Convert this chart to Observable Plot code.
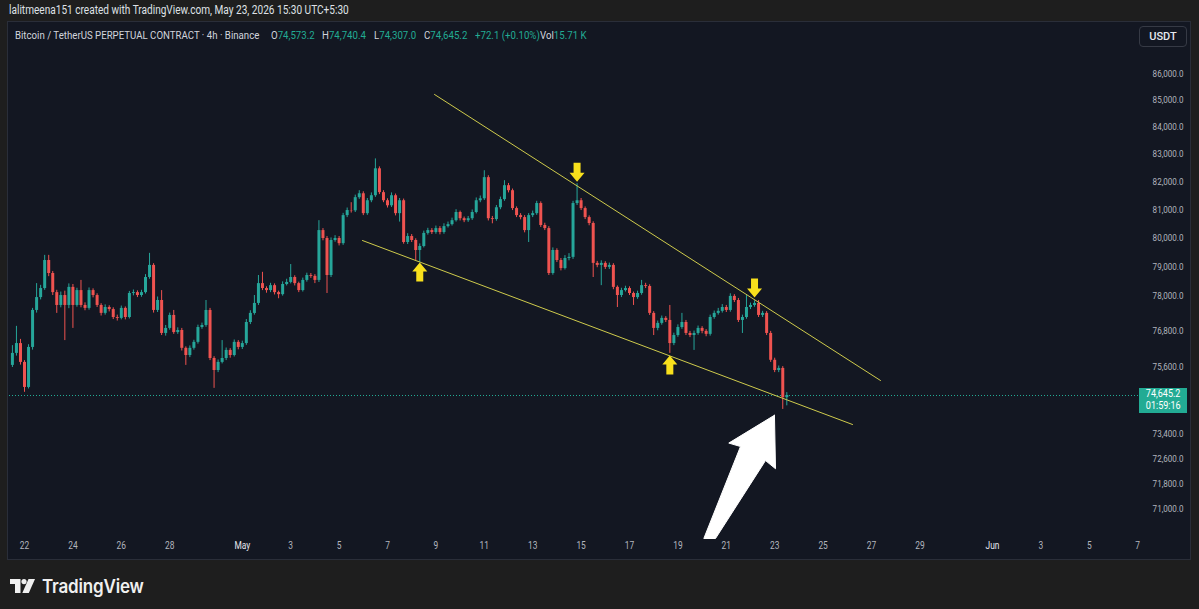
<!DOCTYPE html>
<html>
<head>
<meta charset="utf-8">
<script src="https://cdn.jsdelivr.net/npm/d3@7"></script>
<script src="https://cdn.jsdelivr.net/npm/@observablehq/plot@0.6"></script>
<style>
html,body{margin:0;padding:0;background:#1e1e1e;}
body{width:1199px;height:609px;position:relative;overflow:hidden;font-family:Roboto,"Noto Sans",sans-serif;}
#header{position:absolute;left:9px;top:3px;font-size:12px;color:#dfe1e6;white-space:nowrap;transform:scaleX(.84);transform-origin:0 0;}
#panel{position:absolute;left:7px;top:21px;width:1184px;height:539px;background:#131722;border:1px solid #2a2e39;box-sizing:border-box;}
#chart{position:absolute;left:8px;top:22px;}
.lg{position:absolute;top:28px;font-size:11.5px;white-space:nowrap;color:#d1d4dc;transform:scaleX(.84);transform-origin:0 0;}
.v{color:#22ab94;}
#usdt{position:absolute;left:1139px;top:26px;width:48px;height:21px;box-sizing:border-box;border:1px solid #363a45;border-radius:4px;background:#131722;color:#e6e8ee;font-size:11px;font-weight:500;display:flex;align-items:center;justify-content:center;}
#plabel{position:absolute;left:1139px;width:48px;height:25px;background:#22ab94;color:#fff;font-size:10.5px;line-height:12px;text-align:center;}
#plabel span{display:inline-block;transform:scaleX(.86);}
#logo{position:absolute;left:10px;top:575px;display:flex;align-items:center;}
#logo .t{font-family:Inter,Roboto,sans-serif;font-size:18.5px;font-weight:600;color:#f0f0f0;margin-left:7px;display:inline-block;transform:scaleX(.92);transform-origin:0 50%;letter-spacing:-0.2px;}
</style>
</head>
<body>
<div id="header">lalitmeena151 created with TradingView.com, May 23, 2026 15:30 UTC+5:30</div>
<div id="panel"></div>
<div id="chart"></div>
<div class="lg" style="left:15px">Bitcoin / TetherUS PERPETUAL CONTRACT · 4h · Binance</div>
<div class="lg" style="left:271px">O<span class="v">74,573.2</span></div>
<div class="lg" style="left:322px">H<span class="v">74,740.4</span></div>
<div class="lg" style="left:374px">L<span class="v">74,307.0</span></div>
<div class="lg" style="left:424px">C<span class="v">74,645.2</span></div>
<div class="lg" style="left:475px"><span class="v">+72.1 (+0.10%)</span></div>
<div class="lg" style="left:540px">Vol<span class="v">15.71 K</span></div>
<div id="usdt">USDT</div>
<div id="plabel"><span>74,645.2</span><br><span>01:59:16</span></div>
<div id="logo">
<svg width="25" height="14" viewBox="0 0 25 14"><path d="M0 0H10.5V14H5V5H0Z" fill="#f0f0f0"/><circle cx="14" cy="2.6" r="2.6" fill="#f0f0f0"/><path d="M18.5 0H25L18.8 14H12.3Z" fill="#f0f0f0"/></svg>
<span class="t">TradingView</span>
</div>
<script>
// ---- data ----
const barStart = Date.UTC(2026, 3, 21, 13, 30); // first 4h bar, UTC+5:30 wall time
const barHours = 4;

const closes = [
76040,76370,75740,74910,76240,77490,77930,78240,79210,78760,
78100,77660,78000,77660,78280,77660,78170,77660,77560,78170,
78000,77660,77390,77590,77520,77250,77220,77560,77250,78070,
78100,78000,78100,78620,79040,77490,77830,76710,76880,77320,
76740,76810,76210,75970,76210,76410,76910,76980,77490,75870,
75470,75740,75870,76140,75970,76410,76240,76370,77080,77390,
77730,78410,78240,78170,78340,78100,78030,78380,78450,78620,
78410,78170,78520,78690,78660,78520,80260,79980,78690,79910,
79980,79800,80790,80970,80960,81430,81570,80860,81320,81500,
82470,81610,81320,81140,81500,80860,81320,79840,80050,79910,
79560,79700,80160,80260,80190,80330,80190,80400,80470,80610,
80900,80680,80610,80680,80900,81320,81390,82150,80680,80650,
81070,81360,81860,81680,81040,80790,80720,80260,80790,80860,
81220,80440,80330,78760,79560,79210,78930,79280,79320,81220,
81320,81040,80720,80510,79110,79040,79110,78970,79040,78280,
78000,78170,78240,78070,77930,78070,78340,78310,77390,76880,
77050,77220,77150,76370,76640,76910,77080,76710,76640,76710,
76880,76780,76680,77250,77390,77460,77590,77490,77970,77830,
77150,77250,77590,77660,77730,77320,77390,76710,75810,75470,
75540,74573.2,74645.2];

const opens = [
75640,76040,76370,75740,74910,76240,77490,77930,78240,79210,
78760,78100,77660,78000,77660,78280,77660,78170,77660,77560,
78170,78000,77660,77390,77590,77520,77250,77220,77560,77250,
78070,78100,78000,78100,78620,79040,77490,77830,76710,76880,
77320,76740,76810,76210,75970,76210,76410,76910,76980,77490,
75870,75470,75740,75870,76140,75970,76410,76240,76370,77080,
77390,77730,78410,78240,78170,78340,78100,78030,78380,78450,
78620,78410,78170,78520,78690,78660,78520,80260,79980,78690,
79910,79980,79800,80790,80970,80960,81430,81570,80860,81320,
81500,82470,81610,81320,81140,81500,80860,81320,79840,80050,
79910,79560,79700,80160,80260,80190,80330,80190,80400,80470,
80610,80900,80680,80610,80680,80900,81320,81390,82150,80680,
80650,81070,81360,81860,81680,81040,80790,80720,80260,80790,
80860,81220,80440,80330,78760,79560,79210,78930,79280,79320,
81220,81320,81040,80720,80510,79110,79040,79110,78970,79040,
78280,78000,78170,78240,78070,77930,78070,78340,78310,77390,
76880,77050,77220,77150,76370,76640,76910,77080,76710,76640,
76710,76880,76780,76680,77250,77390,77460,77590,77490,77970,
77830,77150,77250,77590,77660,77730,77320,77390,76710,75810,
75470,75540,74573.2];

const highs = [
76300,76950,76510,75800,76330,77560,78410,78350,79390,79390,
78830,78180,78120,78150,78400,78380,78250,78520,77750,78260,
78230,78060,77720,77680,77650,77580,77330,77640,77610,78140,
78190,78160,78180,78720,79460,79100,77950,78170,76980,77400,
77490,76900,76880,76260,76290,76480,76990,77060,77830,77560,
75930,75820,76470,76220,76200,76490,76470,76450,77180,77480,
78000,78690,78800,78300,78420,78400,78150,78470,78560,79070,
78680,78460,78600,78770,78760,78720,80610,80330,80050,80000,
80080,80050,80870,81060,81250,81520,81680,81640,81400,81600,
82830,82540,81680,81390,81600,81560,81400,81380,80150,80120,
79970,79790,80240,80340,80330,80420,80400,80500,80560,80700,
81000,80950,80740,80760,80990,81420,81490,82400,82220,80760,
81150,81450,82040,81940,81740,81100,80860,80790,80860,80950,
81300,81280,80520,80400,79650,79620,79280,79380,79450,81300,
81930,81400,81100,80780,80570,79180,79200,79170,79120,79100,
78330,78250,78320,78300,78120,78150,78520,78420,78370,77450,
77130,77300,77280,77660,76720,77000,77390,77150,76780,76790,
76960,76940,76840,77330,77470,77560,77690,77660,78060,78030,
77900,77330,78000,77740,77820,77830,77460,77450,76780,75880,
75620,75600,74740.4];

const lows = [
75570,75950,75650,74750,74860,76150,77400,77850,78180,78650,
78000,77390,77580,76470,77550,76880,77600,77580,77480,77500,
77920,77590,77300,77330,77440,77180,77130,77170,77170,77200,
77990,77930,77940,78050,78560,77400,77420,76640,76620,76820,
76680,76680,76120,75640,75900,76150,76350,76850,76920,75800,
74880,75400,75690,75800,75880,75920,76160,76170,76310,77010,
77330,77660,78170,78080,78100,78020,77890,77980,78330,78400,
78330,78100,78120,78460,78590,78410,78450,79900,78070,78620,
79850,79720,79740,80720,80880,80900,81370,80790,80800,81250,
81440,81540,81250,81060,81080,80780,80560,79780,79770,79840,
79210,79140,79650,80100,80120,80130,80110,80130,80350,80420,
80560,80600,80540,80550,80620,80850,81250,81330,80600,80500,
80590,81000,81300,81600,80970,80720,80640,80180,79840,80720,
80800,80370,80260,78690,78700,79140,78850,78880,79200,79250,
81150,80970,80650,80430,78620,78960,78340,78900,78900,78200,
77590,77930,78120,78000,77660,77870,78010,78240,77320,76640,
76800,76990,77080,76040,76300,76580,76850,76640,76570,76140,
76650,76700,76600,76620,77190,77330,77400,77420,77430,77760,
77080,76710,77190,77520,77600,77250,77250,76640,75740,75400,
75400,74190,74307.0];

const lastPrice = 74645.2;
const priceTicks = [86000,85000,84000,83000,82000,81000,80000,79000,78000,76800,75600,73400,72600,71800,71000];
const dayTickDates = ["2026-04-22","2026-04-24","2026-04-26","2026-04-28","2026-05-01","2026-05-03","2026-05-05","2026-05-07","2026-05-09","2026-05-11","2026-05-13","2026-05-15","2026-05-17","2026-05-19","2026-05-21","2026-05-23","2026-05-25","2026-05-27","2026-05-29","2026-06-01","2026-06-03","2026-06-05","2026-06-07"];
const dayTickLabels = ["22","24","26","28","May","3","5","7","9","11","13","15","17","19","21","23","25","27","29","Jun","3","5","7"];

// drawings
const upperTrendTimes = ["2026-05-09T00:07Z","2026-05-27T10:24Z"];
const upperTrendPrices = [85210, 75140];
const lowerTrendTimes = ["2026-05-06T00:42Z","2026-05-26T06:40Z"];
const lowerTrendPrices = [79910, 73700];
const upArrowBars = [101, 163];
const upArrowPrices = [79140, 75970];
const downArrowBars = [140, 184];
const downArrowPrices = [82000, 77930];
const whiteArrowTimes = ["2026-05-23T01:15Z","2026-05-21T03:58Z","2026-05-21T15:35Z","2026-05-20T03:12Z","2026-05-20T14:48Z","2026-05-22T16:23Z","2026-05-23T02:18Z","2026-05-23T01:15Z"];
const whiteArrowPrices = [74000, 73100, 72990, 70096, 70096, 72540, 72280, 74000];

// ---- build ----
const UP = "#26a69a", DOWN = "#ef5350", TEAL = "#22ab94";
const barTime = i => new Date(barStart + i * barHours * 3600000);
const bars = closes.map((c, i) => ({t: barTime(i), o: opens[i], h: highs[i], l: lows[i], c, col: c >= opens[i] ? UP : DOWN}));
const xTicks = dayTickDates.map((d, i) => ({t: new Date(d + "T01:30Z"), label: dayTickLabels[i], month: isNaN(+dayTickLabels[i])}));
const upperTrend = upperTrendTimes.map((d, i) => ({t: new Date(d), p: upperTrendPrices[i]}));
const lowerTrend = lowerTrendTimes.map((d, i) => ({t: new Date(d), p: lowerTrendPrices[i]}));
const upArrows = upArrowBars.map((b, i) => ({t: barTime(b), p: upArrowPrices[i]}));
const downArrows = downArrowBars.map((b, i) => ({t: barTime(b), p: downArrowPrices[i]}));
const whiteArrow = whiteArrowTimes.map((d, i) => ({t: new Date(d), p: whiteArrowPrices[i]}));

const arrowDown = {draw(ctx) {ctx.moveTo(0,0);ctx.lineTo(-7.5,-9);ctx.lineTo(-3.5,-9);ctx.lineTo(-3.5,-19);ctx.lineTo(3.5,-19);ctx.lineTo(3.5,-9);ctx.lineTo(7.5,-9);ctx.closePath();}};
const arrowUp = {draw(ctx) {ctx.moveTo(0,0);ctx.lineTo(-7.5,9);ctx.lineTo(-3.5,9);ctx.lineTo(-3.5,19);ctx.lineTo(3.5,19);ctx.lineTo(3.5,9);ctx.lineTo(7.5,9);ctx.closePath();}};
const fmt = d3.format(",.1f");

const chart = Plot.plot({
  width: 1182, height: 537,
  marginLeft: 1, marginRight: 52, marginTop: 0, marginBottom: 22,
  style: {background: "transparent", fontFamily: "Roboto, sans-serif", overflow: "visible"},
  x: {type: "utc", domain: [new Date("2026-04-21T10:37Z"), new Date("2026-06-07T02:18Z")], axis: null},
  y: {type: "log", domain: [70127, 87950], axis: null},
  color: {type: "identity"},
  marks: [
    Plot.ruleY([lastPrice], {stroke: TEAL, strokeWidth: 1, strokeDasharray: "1,2"}),
    Plot.ruleX(bars, {x: "t", y1: "l", y2: "h", stroke: "col", strokeWidth: 1}),
    Plot.ruleX(bars, {x: "t", y1: "o", y2: "c", stroke: "col", strokeWidth: 3}),
    Plot.line(upperTrend, {x: "t", y: "p", stroke: "#cfcb4c", strokeWidth: 1}),
    Plot.line(lowerTrend, {x: "t", y: "p", stroke: "#cfcb4c", strokeWidth: 1}),
    Plot.dot(upArrows, {x: "t", y: "p", symbol: arrowUp, r: 6, fill: "#f8e01c", stroke: "none"}),
    Plot.dot(downArrows, {x: "t", y: "p", symbol: arrowDown, r: 6, fill: "#f8e01c", stroke: "none"}),
    Plot.line(whiteArrow, {x: "t", y: "p", fill: "#ffffff", stroke: "#ffffff", strokeWidth: 1, curve: "linear"}),
    Plot.text(priceTicks, {y: d => d, text: d => fmt(d), frameAnchor: "right", dx: 45, textAnchor: "end", fill: "#b2b5be", fontSize: 9.6}),
    Plot.text(xTicks, {x: "t", text: "label", frameAnchor: "bottom", dy: 11, fill: d => d.month ? "#e6e8ee" : "#b2b5be", fontWeight: d => d.month ? "bold" : "normal", fontSize: 10})
  ]
});

// horizontal condensing of svg text to match the screenshot's narrow type
chart.querySelectorAll("text").forEach(el => {
  const tr = el.getAttribute("transform");
  if (tr) el.setAttribute("transform", tr + " scale(0.84,1)");
  else {
    const x = +el.getAttribute("x") || 0, y = +el.getAttribute("y") || 0;
    el.removeAttribute("x"); el.removeAttribute("y");
    el.setAttribute("transform", `translate(${x},${y}) scale(0.84,1)`);
  }
});
document.getElementById("chart").appendChild(chart);

const yPx = chart.scale("y").apply(lastPrice) + 22;
document.getElementById("plabel").style.top = (yPx - 7) + "px";
</script>
</body>
</html>
